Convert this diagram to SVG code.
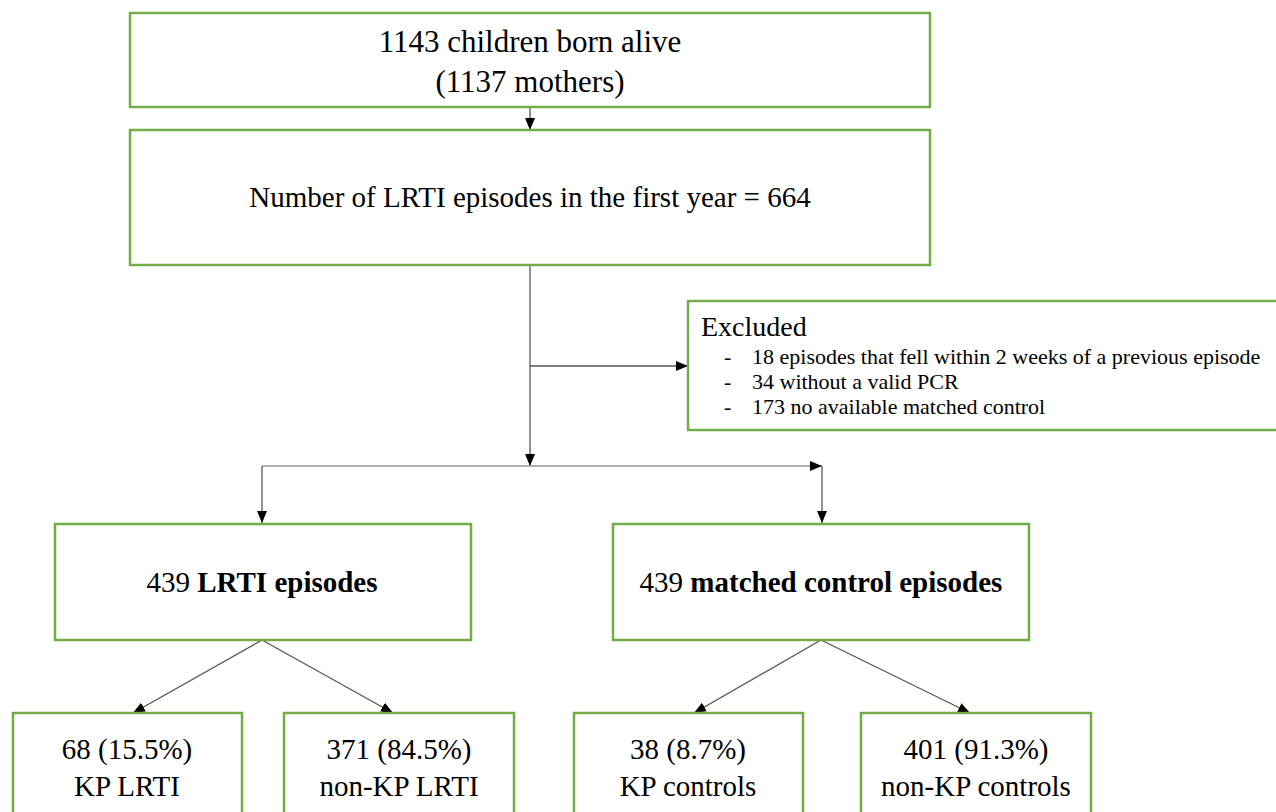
<svg xmlns="http://www.w3.org/2000/svg" width="1276" height="812" viewBox="0 0 1276 812">
<style>
.box{fill:#fff;stroke:#70AD47;stroke-width:2.5}
.t{font-family:"Liberation Serif","Times New Roman",serif;fill:#000;text-anchor:middle}
.l{font-family:"Liberation Serif","Times New Roman",serif;fill:#000}
.c{fill:none;stroke:#555;stroke-width:1.3}
.g{fill:none;stroke:#999;stroke-width:1.6}
b{font-weight:bold}
</style>
<defs>
<marker id="ah" markerUnits="userSpaceOnUse" markerWidth="12" markerHeight="12" viewBox="0 0 12 12" refX="12" refY="6" orient="auto">
<path d="M0,1 L12,6 L0,11 Z" fill="#000"/>
</marker>
</defs>
<rect width="1276" height="812" fill="#fff"/>
<g id="connectors">
<path class="c" d="M530,107 V130" marker-end="url(#ah)"/>
<path class="c" d="M530,265 V466" marker-end="url(#ah)"/>
<path class="c" d="M530,366 H688" marker-end="url(#ah)"/>
<path class="g" d="M262,466 H822" marker-end="url(#ah)"/>
<path class="c" d="M262,466 V523" marker-end="url(#ah)"/>
<path class="c" d="M822,466 V523" marker-end="url(#ah)"/>
<path class="c" d="M262,640 L133,713" marker-end="url(#ah)"/>
<path class="c" d="M262,640 L393,713" marker-end="url(#ah)"/>
<path class="c" d="M821,640 L694,713" marker-end="url(#ah)"/>
<path class="c" d="M821,640 L970,713" marker-end="url(#ah)"/>
</g>
<g id="n-born">
<rect class="box" x="130" y="13" width="800" height="94"/>
<text class="t" x="530" y="52" font-size="31">1143 children born alive</text>
<text class="t" x="530" y="92" font-size="31">(1137 mothers)</text>
</g>
<g id="n-lrti664">
<rect class="box" x="130" y="130" width="800" height="135"/>
<text class="t" x="530" y="207" font-size="29">Number of LRTI episodes in the first year = 664</text>
</g>
<g id="n-excluded">
<rect class="box" x="688" y="301" width="600" height="129"/>
<text class="l" x="701" y="336" font-size="28">Excluded</text>
<text class="l" x="724" y="364" font-size="22">-</text>
<text class="l" x="752" y="364" font-size="22">18 episodes that fell within 2 weeks of a previous episode</text>
<text class="l" x="724" y="389" font-size="22">-</text>
<text class="l" x="752" y="389" font-size="22">34 without a valid PCR</text>
<text class="l" x="724" y="414" font-size="22">-</text>
<text class="l" x="752" y="414" font-size="22">173 no available matched control</text>
</g>
<g id="n-lrti439">
<rect class="box" x="55" y="524" width="416" height="116"/>
<text class="t" x="262" y="592" font-size="29">439 <tspan font-weight="bold">LRTI episodes</tspan></text>
</g>
<g id="n-ctrl439">
<rect class="box" x="613" y="524" width="416" height="116"/>
<text class="t" x="821" y="592" font-size="29">439 <tspan font-weight="bold">matched control episodes</tspan></text>
</g>
<g id="n-kplrti">
<rect class="box" x="13" y="713" width="229" height="110"/>
<text class="t" x="127" y="759" font-size="29">68 (15.5%)</text>
<text class="t" x="127" y="796" font-size="29">KP LRTI</text>
</g>
<g id="n-nonkplrti">
<rect class="box" x="284" y="713" width="230" height="110"/>
<text class="t" x="399" y="759" font-size="29">371 (84.5%)</text>
<text class="t" x="399" y="796" font-size="29">non-KP LRTI</text>
</g>
<g id="n-kpctrl">
<rect class="box" x="574" y="713" width="229" height="110"/>
<text class="t" x="688" y="759" font-size="29">38 (8.7%)</text>
<text class="t" x="688" y="796" font-size="29">KP controls</text>
</g>
<g id="n-nonkpctrl">
<rect class="box" x="861" y="713" width="230" height="110"/>
<text class="t" x="976" y="759" font-size="29">401 (91.3%)</text>
<text class="t" x="976" y="796" font-size="29">non-KP controls</text>
</g>
</svg>
